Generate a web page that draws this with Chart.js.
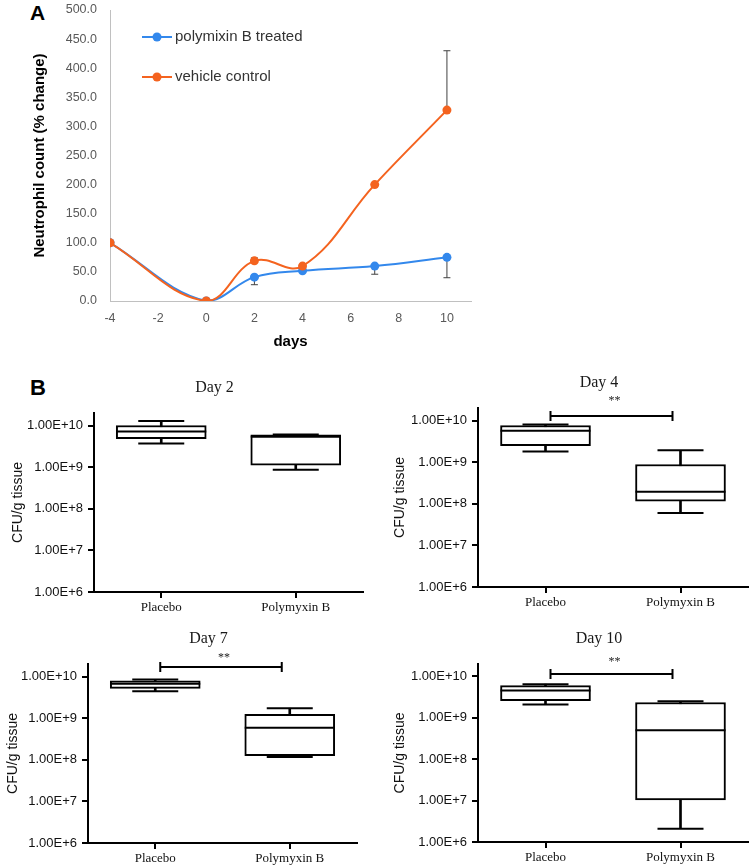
<!DOCTYPE html>
<html>
<head>
<meta charset="utf-8">
<script src="https://cdn.jsdelivr.net/npm/chart.js@4.4.1/dist/chart.umd.min.js"></script>
<style>
html,body{margin:0;padding:0;background:#fff;overflow:hidden;}
#page{position:relative;width:750px;height:867px;}
canvas{position:absolute;}
.tag{position:absolute;font-family:"Liberation Sans",Arial,sans-serif;font-weight:bold;color:#000;}
</style>
</head>
<body>
<div id="page">
  <div class="tag" style="left:30px;top:1px;font-size:21px;">A</div>
  <div class="tag" style="left:30px;top:375px;font-size:22px;">B</div>
  <canvas id="chartA" style="left:0;top:0;" width="480" height="355"></canvas>
  <canvas id="day2" style="left:0;top:370px;" width="380" height="252"></canvas>
  <canvas id="day4" style="left:380px;top:370px;" width="370" height="252"></canvas>
  <canvas id="day7" style="left:0;top:625px;" width="380" height="248"></canvas>
  <canvas id="day10" style="left:380px;top:625px;" width="370" height="248"></canvas>
</div>
<script>
// panel A - neutrophil count
var days = [-4, 0, 2, 4, 7, 10];
var polymixin = [100, 0, 41, 52, 60, 75];
var polymixinErr = [0, 0, 13, 0, 14, 35];   // drawn downward
var vehicle = [100, 0, 69, 60, 200, 328];
var vehicleErr = [0, 0, 5, 3, 0, 102];      // drawn upward

// panel B - CFU/g tissue, each as [min, q1, median, q3, max]
var groups = ['Placebo', 'Polymyxin B'];
var day2Placebo = [3.7e9, 4.8e9, 7.2e9, 1.0e10, 1.28e10];
var day2Polymyxin = [8.7e8, 1.11e9, 5.4e9, 6.0e9, 6.1e9];
var day4Placebo = [1.8e9, 2.5e9, 5.7e9, 7.6e9, 8.0e9];
var day4Polymyxin = [6.0e7, 1.16e8, 1.95e8, 8.8e8, 1.92e9];
var day7Placebo = [4.4e9, 5.2e9, 6.7e9, 7.9e9, 8.5e9];
var day7Polymyxin = [1.17e8, 1.26e8, 5.85e8, 1.24e9, 1.73e9];
var day10Placebo = [2.1e9, 2.6e9, 4.6e9, 6.0e9, 6.5e9];
var day10Polymyxin = [2.1e6, 1.04e7, 5.0e8, 2.35e9, 2.5e9];

var SANS = '"Liberation Sans", Arial, sans-serif';
var SERIF = '"Liberation Serif", "Times New Roman", serif';
var BLUE = '#3388ec';
var ORANGE = '#f4631f';
Chart.defaults.font.family = SANS;

function toXY(xs, ys){
    return xs.map(function(x, i){ return {x: x, y: ys[i]}; });
}

var errorBars = {
    id: 'errorBars',
    beforeDatasetsDraw: function(chart){
        var ctx = chart.ctx, xs = chart.scales.x, ys = chart.scales.y;
        var sets = [[polymixin, polymixinErr, -1], [vehicle, vehicleErr, 1]];
        ctx.save();
        ctx.strokeStyle = '#404040';
        ctx.lineWidth = 1;
        sets.forEach(function(s){
            days.forEach(function(d, i){
                if(!s[1][i]) return;
                var px = xs.getPixelForValue(d);
                var y0 = ys.getPixelForValue(s[0][i]);
                var y1 = ys.getPixelForValue(s[0][i] + s[2] * s[1][i]);
                ctx.beginPath();
                ctx.moveTo(px, y0); ctx.lineTo(px, y1);
                ctx.moveTo(px - 3.5, y1); ctx.lineTo(px + 3.5, y1);
                ctx.stroke();
            });
        });
        ctx.restore();
    }
};

var insideLegend = {
    id: 'insideLegend',
    afterDraw: function(chart){
        var ctx = chart.ctx;
        ctx.save();
        chart.data.datasets.forEach(function(ds, i){
            var y = 37 + i * 40;
            ctx.strokeStyle = ds.borderColor;
            ctx.lineWidth = 2;
            ctx.beginPath(); ctx.moveTo(142, y); ctx.lineTo(172, y); ctx.stroke();
            ctx.fillStyle = ds.borderColor;
            ctx.beginPath(); ctx.arc(157, y, 4.5, 0, Math.PI * 2); ctx.fill();
            ctx.fillStyle = '#333';
            ctx.font = '15px ' + SANS;
            ctx.textBaseline = 'middle';
            ctx.fillText(ds.label, 175, y);
        });
        ctx.restore();
    }
};

function initPanelA(){
    var el = document.getElementById('chartA');
    new Chart(el.getContext('2d'), {
        type: 'line',
        data: {
            datasets: [
                { label: 'polymixin B treated', data: toXY(days, polymixin), borderColor: BLUE, backgroundColor: BLUE, order: 2,
                  pointBackgroundColor: BLUE, pointBorderWidth: 0, pointRadius: 4.5, borderWidth: 2, tension: 0.4 },
                { label: 'vehicle control', data: toXY(days, vehicle), borderColor: ORANGE, backgroundColor: ORANGE, order: 1,
                  pointBackgroundColor: ORANGE, pointBorderWidth: 0, pointRadius: 4.5, borderWidth: 2, tension: 0.4 }
            ]
        },
        options: {
            responsive: false, animation: false, events: [],
            layout: { autoPadding: false, padding: { top: 10, right: 9, bottom: 0, left: 0 } },
            plugins: { legend: { display: false }, tooltip: { enabled: false } },
            scales: {
                x: {
                    type: 'linear', min: -4, max: 11,
                    ticks: { stepSize: 2, color: '#595959', font: { size: 12.5 }, padding: 10 },
                    afterBuildTicks: function(s){ s.ticks = s.ticks.filter(function(t){ return t.value <= 10; }); },
                    grid: { display: false, drawTicks: false },
                    border: { display: true, color: '#c0c0c0', width: 1 },
                    title: { display: true, text: 'days', color: '#000', font: { size: 15, weight: 'bold' }, padding: { top: 0, bottom: 4 } },
                    afterFit: function(s){ s.height = 54; s.paddingLeft = 0; s.paddingRight = 0; }
                },
                y: {
                    min: 0, max: 500,
                    ticks: { stepSize: 50, color: '#595959', font: { size: 12.5 }, padding: 13,
                             callback: function(v){ return Number(v).toFixed(1); } },
                    grid: { display: false, drawTicks: false },
                    border: { display: true, color: '#c0c0c0', width: 1 },
                    title: { display: true, text: 'Neutrophil count (% change)', color: '#000', font: { size: 15, weight: 'bold' }, padding: 31 },
                    afterFit: function(s){ s.width = 110; s.paddingTop = 0; s.paddingBottom = 0; }
                }
            }
        },
        plugins: [errorBars, insideLegend]
    });
}

var boxDecor = {
    id: 'boxDecor',
    afterDraw: function(chart, args, opts){
        var ctx = chart.ctx, ca = chart.chartArea, xs = chart.scales.x;
        ctx.save();
        ctx.fillStyle = '#1a1a1a';
        ctx.textAlign = 'center';
        ctx.textBaseline = 'middle';
        ctx.font = '16px ' + SERIF;
        ctx.fillText(opts.title, (ca.left + ca.right) / 2 - 14, ca.top - 25);
        if(opts.sig){
            var y = ca.top + opts.sig.dy;
            var x0 = xs.getPixelForValue(0) + 5, x1 = xs.getPixelForValue(1) - 8;
            ctx.strokeStyle = '#000';
            ctx.lineWidth = 2;
            ctx.beginPath();
            ctx.moveTo(x0, y); ctx.lineTo(x1, y);
            ctx.moveTo(x0, y - 5); ctx.lineTo(x0, y + 5);
            ctx.moveTo(x1, y - 5); ctx.lineTo(x1, y + 5);
            ctx.stroke();
            ctx.font = '12px ' + SERIF;
            ctx.fillText('**', (x0 + x1) / 2 + 3, y - opts.sig.starDy);
        }
        ctx.restore();
    }
};

function initBoxChart(id, title, placebo, polymyxin, lay){
    var el = document.getElementById(id);
    if(!el) return;
    var col = function(k){ return [placebo[k], polymyxin[k]]; };
    var axisGrid = { display: true, drawOnChartArea: false, drawTicks: true, tickLength: 6, color: '#000', lineWidth: 2 };
    new Chart(el.getContext('2d'), {
        type: 'bar',
        data: {
            labels: groups,
            datasets: [
                { type: 'line', data: col(2), showLine: false, pointStyle: 'line', pointRadius: 45,
                  pointBorderColor: '#000', pointBorderWidth: 2, borderColor: '#000' },
                { type: 'line', data: col(0), showLine: false, pointStyle: 'line', pointRadius: 23,
                  pointBorderColor: '#000', pointBorderWidth: 2, borderColor: '#000' },
                { type: 'line', data: col(4), showLine: false, pointStyle: 'line', pointRadius: 23,
                  pointBorderColor: '#000', pointBorderWidth: 2, borderColor: '#000' },
                { data: [[placebo[1], placebo[3]], [polymyxin[1], polymyxin[3]]], grouped: false, barThickness: 90,
                  backgroundColor: '#fff', borderColor: '#000', borderWidth: 2, borderSkipped: false },
                { data: [[placebo[0], placebo[4]], [polymyxin[0], polymyxin[4]]], grouped: false, barThickness: 2,
                  backgroundColor: '#000', borderWidth: 0 }
            ]
        },
        options: {
            responsive: false, animation: false, events: [],
            layout: { autoPadding: false, padding: lay.padding },
            plugins: { legend: { display: false }, tooltip: { enabled: false },
                       boxDecor: { title: title, sig: lay.sig } },
            scales: {
                x: {
                    type: 'category', offset: true,
                    grid: Object.assign({}, axisGrid, { offset: false }),
                    border: { display: true, color: '#000', width: 2 },
                    ticks: { color: '#111', font: { family: SERIF, size: 13 }, padding: 2 },
                    afterFit: function(s){ s.height = 30; }
                },
                y: {
                    type: 'logarithmic', min: 1e6, max: 2e10,
                    grid: axisGrid,
                    border: { display: true, color: '#000', width: 2 },
                    ticks: { color: '#111', font: { size: 13 }, padding: 5, autoSkip: false,
                             callback: function(v){ return '1.00E+' + Math.round(Math.log10(v)); } },
                    afterBuildTicks: function(s){
                        s.ticks = s.ticks.filter(function(t){
                            var l = Math.log10(t.value);
                            return Math.abs(l - Math.round(l)) < 1e-6;
                        });
                    },
                    title: { display: true, text: 'CFU/g tissue', color: '#111', font: { size: 14 }, padding: lay.titlePad },
                    afterFit: function(s){ s.width = lay.yWidth; }
                }
            }
        },
        plugins: [boxDecor]
    });
}

function ready(fn){
    if(document.readyState != 'loading') fn(); else document.addEventListener('DOMContentLoaded', fn);
}

ready(function(){
    initPanelA();
    initBoxChart('day2', 'Day 2', day2Placebo, day2Polymyxin,
        { padding: { top: 43, right: 17, bottom: 0, left: 0 }, yWidth: 94, titlePad: 10, sig: null });
    initBoxChart('day4', 'Day 4', day4Placebo, day4Polymyxin,
        { padding: { top: 38, right: 2, bottom: 5, left: 0 }, yWidth: 98, titlePad: 12, sig: { dy: 8, starDy: 15 } });
    initBoxChart('day7', 'Day 7', day7Placebo, day7Polymyxin,
        { padding: { top: 39, right: 23, bottom: 0, left: 0 }, yWidth: 88, titlePad: 5, sig: { dy: 3, starDy: 9 } });
    initBoxChart('day10', 'Day 10', day10Placebo, day10Polymyxin,
        { padding: { top: 39, right: 2, bottom: 1, left: 0 }, yWidth: 98, titlePad: 12, sig: { dy: 10, starDy: 12 } });
});
</script>
</body>
</html>
